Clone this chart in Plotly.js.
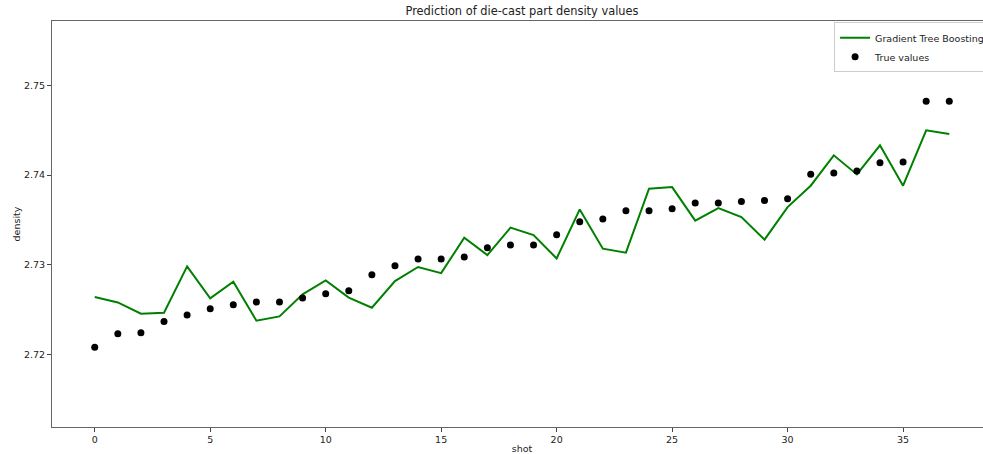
<!DOCTYPE html>
<html>
<head>
<meta charset="utf-8">
<script src="https://cdn.plot.ly/plotly-3.0.1.min.js"></script>
<style>
html,body{margin:0;padding:0;overflow:hidden;background:#fff;width:983px;height:454px;}
#wrap{position:relative;width:983px;height:454px;overflow:hidden;}
#chart{position:absolute;left:0;top:0;width:1000px;height:454px;}
</style>
</head>
<body>
<div id="wrap"><div id="chart"></div></div>
<script>
const shots = Array.from({length: 38}, (_, i) => i);
const trueValues = [
  2.72081, 2.72231, 2.72242, 2.72368, 2.72439, 2.72510, 2.72554, 2.72584, 2.72584, 2.72628,
  2.72677, 2.72711, 2.72889, 2.72990, 2.73064, 2.73064, 2.73086, 2.73190, 2.73220, 2.73220,
  2.73336, 2.73481, 2.73510, 2.73604, 2.73604, 2.73626, 2.73689, 2.73689, 2.73707, 2.73718,
  2.73737, 2.74009, 2.74023, 2.74046, 2.74139, 2.74146, 2.74824, 2.74824
];
const gtbValues = [
  2.72640, 2.72580, 2.72454, 2.72465, 2.72982, 2.72625, 2.72811, 2.72376, 2.72424, 2.72670,
  2.72826, 2.72633, 2.72521, 2.72818, 2.72975, 2.72907, 2.73302, 2.73108, 2.73414, 2.73332,
  2.73071, 2.73618, 2.73180, 2.73135, 2.73849, 2.73867, 2.73492, 2.73633, 2.73532, 2.73280,
  2.73644, 2.73882, 2.74221, 2.74008, 2.74333, 2.73882, 2.74500, 2.74459
];
const xTicks = [0, 5, 10, 15, 20, 25, 30, 35];
const yTicks = [2.72, 2.73, 2.74, 2.75];
const yTickLabels = ["2.72", "2.73", "2.74", "2.75"];

const font = {family: "DejaVu Sans, sans-serif", size: 9.5, color: "#222"};

const traces = [
  {x: shots, y: gtbValues, type: "scatter", mode: "lines", name: "Gradient Tree Boosting",
   line: {color: "#008000", width: 2}},
  {x: shots, y: trueValues, type: "scatter", mode: "markers", name: "True values",
   marker: {color: "#000000", size: 7}}
];

const axisCommon = {
  showgrid: false, zeroline: false, showline: true, mirror: true,
  linecolor: "#666", linewidth: 1, ticks: "outside", ticklen: 4, tickcolor: "#444",
  tickwidth: 1, tickfont: font, automargin: false
};

const layout = {
  width: 1000, height: 454,
  margin: {l: 52, r: 8, t: 21, b: 27, pad: 0, autoexpand: false},
  paper_bgcolor: "#fff", plot_bgcolor: "#fff",
  font: font,
  title: {text: "Prediction of die-cast part density values", font: {family: "DejaVu Sans, sans-serif", size: 11.4, color: "#222"},
          x: 0.5, xref: "paper", y: 1 - 11.5/454, yref: "container", yanchor: "middle"},
  xaxis: Object.assign({}, axisCommon, {range: [-1.85, 38.85], tickvals: xTicks,
    title: {text: "shot", font: font, standoff: 4}}),
  yaxis: Object.assign({}, axisCommon, {range: [2.7119, 2.7572], tickvals: yTicks, ticktext: yTickLabels,
    title: {text: "density", font: font, standoff: 1}}),
  showlegend: true,
  legend: {x: 0.832, xanchor: "left", y: 0.9968, yanchor: "top", bgcolor: "#fff",
           bordercolor: "#ccc", borderwidth: 1, font: font, itemwidth: 30, tracegroupgap: 0}
};

Plotly.newPlot("chart", traces, layout, {displayModeBar: false, staticPlot: true});
</script>
</body>
</html>
